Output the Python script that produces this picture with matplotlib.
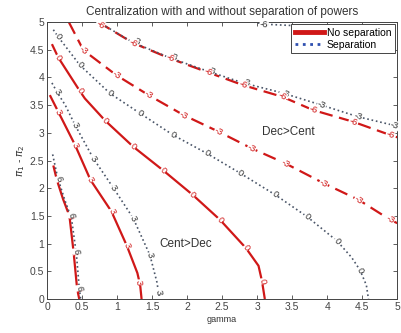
import numpy as np
import matplotlib
matplotlib.use("Agg")
import matplotlib.pyplot as plt
from matplotlib.lines import Line2D

plt.rcParams['font.family'] = ['Liberation Sans', 'DejaVu Sans']

# ---- data: contour lines (gamma, pi1 - pi2) ----
# No separation (red)
ns_p6 = [(0.09, 2.41), (0.14, 2.15), (0.23, 1.8), (0.32, 1.5), (0.38, 0.84), (0.43, 0.18), (0.46, 0.0)]
ns_p3 = [(0.04, 3.68), (0.16, 3.38), (0.4, 2.78), (0.62, 2.15), (0.92, 1.58), (1.14, 0.96),
         (1.29, 0.47), (1.33, 0.25), (1.35, 0.0)]
ns_0 = [(0.07, 4.6), (0.16, 4.36), (0.47, 3.75), (0.54, 3.62), (0.83, 3.22), (1.23, 2.75), (1.66, 2.32),
        (2.08, 1.88), (2.47, 1.43), (2.84, 0.92), (3.02, 0.6), (3.07, 0.32), (3.11, 0.0)]
ns_m3 = [(0.31, 5.0), (0.52, 4.49), (0.99, 4.04), (1.45, 3.68), (1.95, 3.32), (2.45, 3.02),
         (2.92, 2.72), (3.4, 2.45), (3.95, 2.09), (4.45, 1.79), (4.9, 1.43), (5.0, 1.37)]
ns_m6 = [(0.73, 5.0), (1.23, 4.62), (1.76, 4.34), (2.3, 4.09), (2.8, 3.86), (3.36, 3.65),
         (3.8, 3.41), (4.37, 3.2), (4.9, 2.96), (5.0, 2.92)]

# Separation (dotted)
sp_p6 = [(0.08, 2.61), (0.15, 2.2), (0.25, 1.8), (0.35, 1.45), (0.42, 0.8), (0.46, 0.2), (0.48, 0.0)]
sp_p3 = [(0.07, 3.9), (0.15, 3.72), (0.26, 3.5), (0.4, 3.14), (0.66, 2.54), (0.95, 2.0),
         (1.23, 1.46), (1.47, 0.79), (1.57, 0.3), (1.6, 0.05)]
sp_0 = [(0.09, 4.86), (0.16, 4.73), (0.47, 4.22), (0.9, 3.71), (1.33, 3.35), (1.8, 2.96),
        (2.28, 2.63), (2.76, 2.27), (3.26, 1.88), (3.71, 1.49), (4.14, 1.05), (4.35, 0.75),
        (4.47, 0.52), (4.56, 0.25), (4.59, 0.0)]
sp_m3 = [(0.73, 5.0), (1.23, 4.63), (1.76, 4.35), (2.3, 4.11), (2.8, 3.9), (3.36, 3.72),
         (3.92, 3.5), (4.44, 3.29), (5.0, 3.12)]
sp_m6 = [(2.95, 5.0), (3.1, 4.96), (3.6, 4.93)]

# contour label positions
ns_p6_lab = [(0.14, 2.15), (0.32, 1.5), (0.38, 0.84), (0.43, 0.18)]
ns_p3_lab = [(0.16, 3.38), (0.4, 2.78), (0.62, 2.15), (0.92, 1.58), (1.14, 0.96), (1.31, 0.3)]
ns_0_lab = [(0.16, 4.36), (0.47, 3.75), (0.83, 3.22), (1.23, 2.75), (1.66, 2.32), (2.08, 1.88),
            (2.47, 1.43), (2.84, 0.92), (3.07, 0.32)]
ns_m3_lab = [(0.52, 4.49), (0.99, 4.04), (1.45, 3.68), (1.95, 3.32), (2.45, 3.02), (2.92, 2.72),
             (3.4, 2.45), (3.95, 2.09), (4.45, 1.79), (4.9, 1.43)]
ns_m6_lab = [(0.76, 4.95), (1.23, 4.62), (1.76, 4.34), (2.3, 4.09), (2.8, 3.86), (3.36, 3.65),
             (3.8, 3.41), (4.37, 3.2), (4.9, 2.96)]
sp_p6_lab = [(0.17, 2.17), (0.35, 1.52), (0.41, 0.86), (0.46, 0.2)]
sp_p3_lab = [(0.14, 3.73), (0.4, 3.14), (0.66, 2.54), (0.95, 2.0), (1.23, 1.46), (1.47, 0.79), (1.59, 0.13)]
sp_0_lab = [(0.16, 4.73), (0.47, 4.22), (0.9, 3.71), (1.33, 3.35), (1.8, 2.96), (2.28, 2.63),
            (2.76, 2.27), (3.26, 1.88), (3.71, 1.49), (4.14, 1.05), (4.47, 0.52)]
sp_m3_lab = [(1.27, 4.65), (1.8, 4.37), (2.34, 4.12), (2.84, 3.91), (3.4, 3.71), (3.92, 3.5),
             (4.44, 3.29), (4.96, 3.13)]
sp_m6_lab = [(3.1, 4.95)]

x_ticks = [0, 0.5, 1, 1.5, 2, 2.5, 3, 3.5, 4, 4.5, 5]
y_ticks = [0, 0.5, 1, 1.5, 2, 2.5, 3, 3.5, 4, 4.5, 5]
x_ticklabels = ['0', '0.5', '1', '1.5', '2', '2.5', '3', '3.5', '4', '4.5', '5']
y_ticklabels = ['0', '0.5', '1', '1.5', '2', '2.5', '3', '3.5', '4', '4.5', '5']

RED = '#d01818'
DOT = '#4a5568'

fig = plt.figure(figsize=(4.02, 3.33), dpi=100)
ax = fig.add_axes([0.117, 0.102, 0.871, 0.832])
ax.set_xlim(0, 5)
ax.set_ylim(0, 5)

def draw(line, color, ls, lw):
    xs = [p[0] for p in line]
    ys = [p[1] for p in line]
    ax.plot(xs, ys, color=color, ls=ls, lw=lw, solid_capstyle='butt', clip_on=True)

draw(ns_p6, RED, '-', 1.6)
draw(ns_p3, RED, '-', 1.6)
draw(ns_0, RED, '-', 1.6)
draw(ns_m3, RED, (0, (6, 3)), 1.6)
draw(ns_m6, RED, (0, (6, 3)), 1.6)
draw(sp_p6, DOT, ':', 1.2)
draw(sp_p3, DOT, ':', 1.2)
draw(sp_0, DOT, ':', 1.2)
draw(sp_m3, DOT, ':', 1.2)
draw(sp_m6, DOT, ':', 1.2)

fig.canvas.draw()

def labels(line, labs, text, color):
    pts = np.array(line)
    for (gx, gy) in labs:
        d = np.hypot(pts[:, 0] - gx, pts[:, 1] - gy)
        i = int(np.argmin(d))
        j = i + 1 if i + 1 < len(pts) else i - 1
        a = ax.transData.transform(pts[min(i, j)])
        b = ax.transData.transform(pts[max(i, j)])
        ang = np.degrees(np.arctan2(b[1] - a[1], b[0] - a[0]))
        if ang > 90:
            ang -= 180
        if ang < -90:
            ang += 180
        ax.text(gx, gy, text, color=color, fontsize=6.8, ha='center', va='center',
                rotation=ang, rotation_mode='anchor',
                bbox=dict(facecolor='white', edgecolor='none', pad=0.3), zorder=5)

labels(ns_p6, ns_p6_lab, '6', RED)
labels(sp_p6, sp_p6_lab, '6', '#333333')
labels(ns_p3, ns_p3_lab, '3', RED)
labels(sp_p3, sp_p3_lab, '3', '#333333')
labels(ns_0, ns_0_lab, '0', RED)
labels(sp_0, sp_0_lab, '0', '#333333')
labels(ns_m3, ns_m3_lab, '-3', RED)
labels(sp_m3, sp_m3_lab, '-3', '#333333')
labels(ns_m6, ns_m6_lab, '-6', RED)
labels(sp_m6, sp_m6_lab, '-6', '#333333')

ax.text(3.44, 3.01, 'Dec>Cent', fontsize=8.5, ha='center', va='center', color='#333333')
ax.text(1.98, 1.0, 'Cent>Dec', fontsize=8.5, ha='center', va='center', color='#333333')

ax.set_xticks(x_ticks)
ax.set_xticklabels(x_ticklabels)
ax.set_yticks(y_ticks)
ax.set_yticklabels(y_ticklabels)
ax.tick_params(direction='in', top=True, right=True, labelsize=7.5, length=3, width=0.6, pad=2,
               colors='#444444')
for s in ax.spines.values():
    s.set_linewidth(0.7)
    s.set_color('#444444')

ax.set_title('Centralization with and without separation of powers', fontsize=8.5, pad=5, color='#333333')
ax.set_xlabel('gamma', fontsize=6.5, labelpad=2, color='#333333')
ax.set_ylabel(r'$\pi_1$ - $\pi_2$', fontsize=7.5, labelpad=2, color='#333333')

handles = [Line2D([], [], color=RED, lw=3.5, ls='-'),
           Line2D([], [], color='#3050b0', lw=2.0, ls=':')]
leg = ax.legend(handles, ['No separation', 'Separation'], loc='upper right', fontsize=7.5,
                frameon=True, fancybox=False, borderpad=0.35, handlelength=2.8, handletextpad=0.3,
                labelspacing=0.2, borderaxespad=0.2, framealpha=1)
leg.get_frame().set_edgecolor('#444444')
leg.get_frame().set_linewidth(0.7)
leg.set_zorder(10)

fig.savefig('out.png', dpi=100)
